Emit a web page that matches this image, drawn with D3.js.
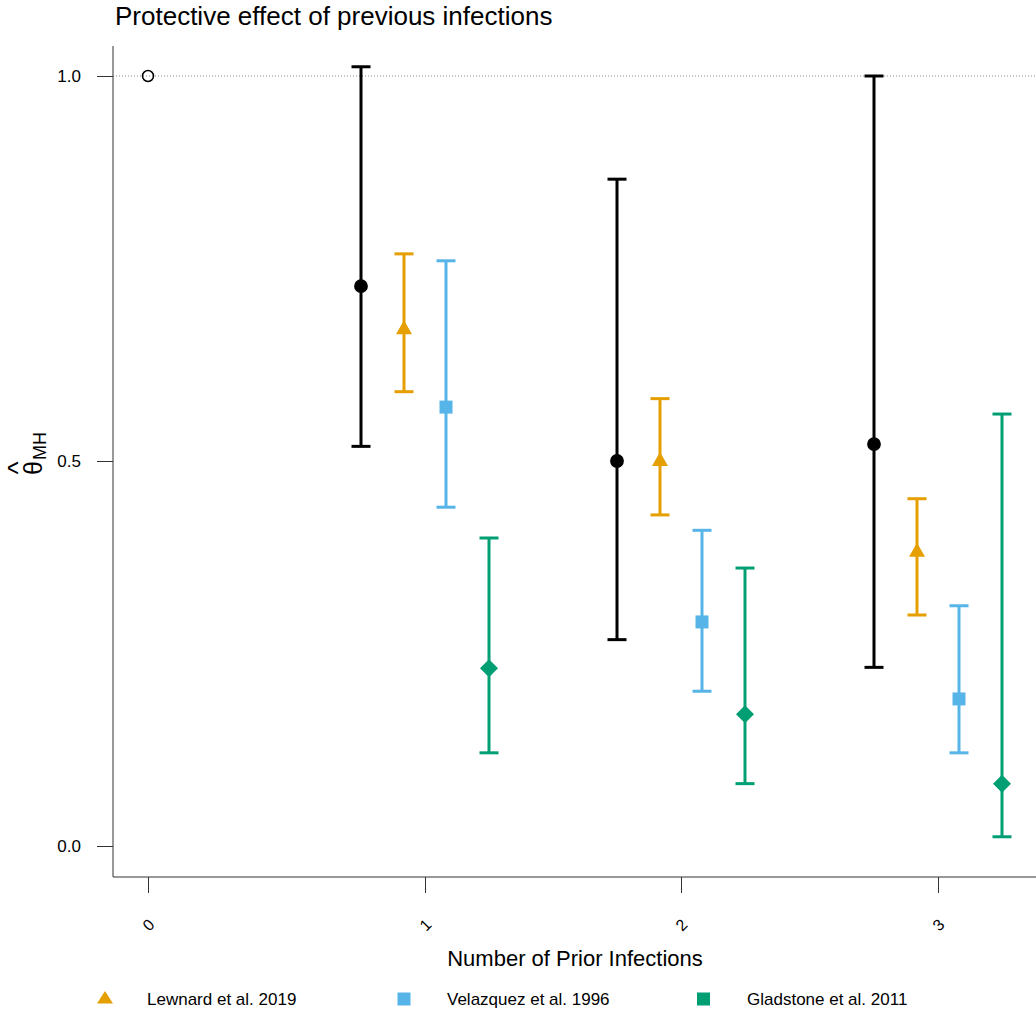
<!DOCTYPE html>
<html>
<head>
<meta charset="utf-8">
<script src="https://cdn.jsdelivr.net/npm/d3@7"></script>
<style>
  body { margin: 0; background: #fff; }
  svg { font-family: "Liberation Sans", Arial, Helvetica, sans-serif; }
</style>
</head>
<body>
<svg id="chart" width="1036" height="1012"></svg>
<script>
// data
var priorInfections = [0, 1, 2, 3];
var seriesNames = ["Pooled", "Lewnard et al. 2019", "Velazquez et al. 1996", "Gladstone et al. 2011"];
var seriesColors = ["#000000", "#E69F00", "#56B4E9", "#009E73"];
var seriesShapes = ["circle", "triangle", "square", "diamond"];

// estimates for 1, 2, 3 prior infections
var pooledEst = [0.727, 0.500, 0.522];
var pooledLo = [0.519, 0.268, 0.232];
var pooledHi = [1.012, 0.866, 1.000];

var lewnardEst = [0.671, 0.500, 0.382];
var lewnardLo = [0.590, 0.430, 0.300];
var lewnardHi = [0.769, 0.581, 0.451];

var velazquezEst = [0.570, 0.291, 0.191];
var velazquezLo = [0.440, 0.201, 0.121];
var velazquezHi = [0.760, 0.410, 0.312];

var gladstoneEst = [0.231, 0.171, 0.081];
var gladstoneLo = [0.121, 0.081, 0.012];
var gladstoneHi = [0.400, 0.361, 0.561];

var refValue = 1.0; // no prior infection
var yTicks = [0, 0.5, 1.0];

var svg = d3.select("#chart");

var x = d3.scaleLinear().domain(priorInfections).range([148, 425, 681, 938]);
var y = d3.scaleLinear().domain([0, 1]).range([846, 76]);
var offsets = [-64, -21, 21, 64];

var rows = [];
var ests = [pooledEst, lewnardEst, velazquezEst, gladstoneEst];
var los = [pooledLo, lewnardLo, velazquezLo, gladstoneLo];
var his = [pooledHi, lewnardHi, velazquezHi, gladstoneHi];
for (var s = 0; s < 4; s++) {
  for (var g = 0; g < 3; g++) {
    rows.push({ s: s, k: priorInfections[g + 1], est: ests[s][g], lo: los[s][g], hi: his[s][g] });
  }
}

// reference dotted line
svg.append("line")
  .attr("x1", 113).attr("x2", 1036)
  .attr("y1", y(refValue)).attr("y2", y(refValue))
  .attr("stroke", "#888").attr("stroke-width", 1)
  .attr("stroke-dasharray", "1,2");

// y axis
var yAxis = d3.axisLeft(y).tickValues(yTicks).tickFormat(d3.format(".1f")).tickSize(16).tickPadding(16);
var gy = svg.append("g").attr("transform", "translate(113,0)").call(yAxis);
gy.select(".domain").attr("d", "M0,46V877");
gy.selectAll("text").attr("font-size", 17).attr("fill", "#000");
gy.selectAll("line, path").attr("stroke", "#333");

// x axis
var xAxis = d3.axisBottom(x).tickValues(priorInfections).tickFormat(d3.format("d")).tickSize(16).tickSizeOuter(0);
var gx = svg.append("g").attr("transform", "translate(0,877)").call(xAxis);
gx.select(".domain").attr("d", "M113,0H1036");
gx.selectAll("line, path").attr("stroke", "#333");
gx.selectAll("text")
  .attr("font-size", 16).attr("fill", "#000")
  .attr("y", 0).attr("dy", "0.35em")
  .attr("text-anchor", "middle")
  .attr("transform", "translate(0,48) rotate(-45)");

// error bars
var capW = 19;
var bars = svg.append("g").selectAll("g").data(rows).join("g")
  .attr("stroke", function (d) { return seriesColors[d.s]; })
  .attr("stroke-width", 3);
bars.append("line")
  .attr("x1", function (d) { return x(d.k) + offsets[d.s]; })
  .attr("x2", function (d) { return x(d.k) + offsets[d.s]; })
  .attr("y1", function (d) { return y(d.lo); })
  .attr("y2", function (d) { return y(d.hi); });
["lo", "hi"].forEach(function (key) {
  bars.append("line")
    .attr("x1", function (d) { return x(d.k) + offsets[d.s] - capW / 2; })
    .attr("x2", function (d) { return x(d.k) + offsets[d.s] + capW / 2; })
    .attr("y1", function (d) { return y(d[key]); })
    .attr("y2", function (d) { return y(d[key]); });
});

function shapePath(shape) {
  if (shape === "circle") return d3.symbol(d3.symbolCircle, 150)();
  if (shape === "triangle") return "M0,-9L8,5H-8Z";
  if (shape === "square") return "M-6.5,-6.5H6.5V6.5H-6.5Z";
  return "M0,-9L9,0L0,9L-9,0Z";
}

// points
svg.append("g").selectAll("path").data(rows).join("path")
  .attr("d", function (d) { return shapePath(seriesShapes[d.s]); })
  .attr("transform", function (d) { return "translate(" + (x(d.k) + offsets[d.s]) + "," + y(d.est) + ")"; })
  .attr("fill", function (d) { return seriesColors[d.s]; });

// reference open circle at 0
svg.append("circle")
  .attr("cx", x(0)).attr("cy", y(refValue)).attr("r", 5.5)
  .attr("fill", "none").attr("stroke", "#000").attr("stroke-width", 1.5);

// title & axis labels
svg.append("text").attr("x", 115).attr("y", 25)
  .attr("font-size", 26).text("Protective effect of previous infections");

svg.append("text").attr("x", 575).attr("y", 966)
  .attr("text-anchor", "middle").attr("font-size", 22)
  .text("Number of Prior Infections");

// y label: theta hat with MH subscript
var yl = svg.append("g").attr("transform", "translate(40,461) rotate(-90)");
yl.append("text").attr("x", -7).attr("y", 2)
  .attr("text-anchor", "middle").attr("font-size", 25).text("θ");
yl.append("text").attr("x", -7).attr("y", -13)
  .attr("text-anchor", "middle").attr("font-size", 28).text("^");
yl.append("text").attr("x", 1).attr("y", 6)
  .attr("font-size", 18).text("MH");

// legend
var legendX = [105, 404, 703.5];
var leg = svg.append("g").selectAll("g").data([1, 2, 3]).join("g")
  .attr("transform", function (d, i) { return "translate(" + legendX[i] + ",999)"; });
leg.append("path")
  .attr("d", function (d) { return d === 1 ? "M0,-8L8,4.5H-8Z" : "M-6.5,-6.5H6.5V6.5H-6.5Z"; })
  .attr("fill", function (d) { return seriesColors[d]; });
leg.append("text").attr("x", function (d, i) { return [42, 43, 43.5][i]; }).attr("y", 6)
  .attr("font-size", 17).text(function (d) { return seriesNames[d]; });
</script>
</body>
</html>
